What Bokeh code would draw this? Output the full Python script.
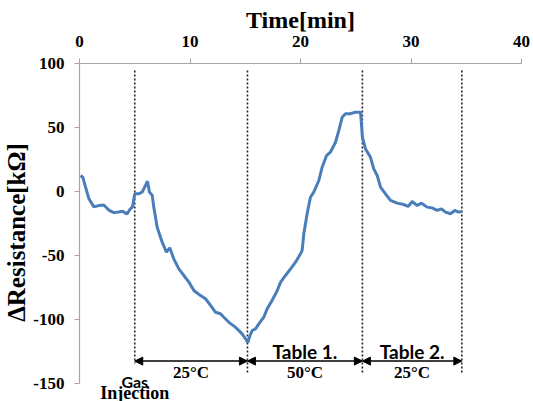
from bokeh.plotting import figure
from bokeh.models import Range1d, FixedTicker, Label, Arrow, NormalHead
from bokeh.embed import file_html
from bokeh.resources import INLINE

# ---- data ----
time_min = [0.1, 0.3, 0.55, 0.85, 1.3, 1.75, 2.2, 2.65, 3.1, 3.55, 3.9, 4.3, 4.6, 4.8,
            5.0, 5.35, 5.67, 5.97, 6.15, 6.33, 6.58, 6.72, 7.03, 7.48, 7.87, 8.17, 8.53,
            8.99, 9.44, 9.9, 10.35, 10.95, 11.4, 11.86, 12.3, 12.76, 13.06, 13.5, 14.1,
            14.7, 15.1, 15.23, 15.45, 15.63, 15.93, 16.23, 16.68, 16.98, 17.44, 17.9,
            18.2, 18.64, 19.1, 19.55, 20.0, 20.15, 20.3, 20.6, 20.9, 21.2, 21.66, 21.96,
            22.35, 22.7, 23.17, 23.47, 23.77, 24.07, 24.5, 24.98, 25.43, 25.52, 25.6,
            25.88, 26.33, 26.63, 26.94, 27.24, 27.69, 28.14, 28.75, 29.35, 29.74, 30.1,
            30.56, 30.95, 31.46, 31.9, 32.37, 32.76, 33.12, 33.57, 33.96, 34.3, 34.6]
resistance_kohm = [12.5, 11, 3.4, -5.7, -12, -11, -10.5, -14.5, -16.5, -16, -15.5, -17.5,
                   -13.5, -12, -1.8, -1.8, -0.5, 4.7, 8, -0.5, -3, -12, -28, -39.6, -47.4,
                   -44, -52.6, -60.4, -65.6, -70.8, -77.3, -81.3, -83.8, -89, -94.3, -95.5,
                   -98.2, -102, -106, -111, -116, -118, -112, -108.6, -107.3, -103.4, -98.2,
                   -91.7, -85, -77.3, -70.8, -65.6, -60.4, -55.2, -48.7, -46, -33, -17.4,
                   -4.5, -0.5, 8.6, 19, 28, 30.7, 38.5, 47.7, 58, 60.7, 60.7, 62, 62, 52,
                   42.4, 33.3, 26.8, 17.7, 12.5, 3.4, -1.8, -7, -9.1, -10.2, -11.7, -7.8,
                   -10.9, -9.1, -12.2, -12.8, -14.8, -13.5, -16.1, -17.4, -14.8, -16.1, -15.6]

event_times = [5.0, 15.2, 25.6, 34.6]
phase_names = ["", "Table 1.", "Table 2."]
phase_temps = ["25\u00b0C", "50\u00b0C", "25\u00b0C"]

x_ticks = [0, 10, 20, 30, 40]
y_ticks = [-150, -100, -50, 0, 50, 100]

SERIF = "Liberation Serif"
SANS = "Lato"

p = figure(width=533, height=401, x_range=Range1d(0, 40), y_range=Range1d(-164.06, 100),
           x_axis_location="above", output_backend="svg", toolbar_location=None,
           min_border_left=79, min_border_right=12, min_border_top=63, min_border_bottom=0)
p.grid.visible = False
p.outline_line_color = None
p.background_fill_color = "white"

p.xaxis.ticker = FixedTicker(ticks=x_ticks)
p.yaxis.ticker = FixedTicker(ticks=y_ticks)
p.yaxis.bounds = (-150, 100)
p.yaxis.major_label_overrides = {t: str(t) for t in y_ticks}
for ax in p.axis:
    ax.axis_line_color = "#a6a6a6"
    ax.axis_line_width = 1.2
    ax.major_tick_line_color = "#a6a6a6"
    ax.minor_tick_line_color = None
    ax.major_tick_out = 5
    ax.major_tick_in = 0
    ax.major_label_text_font = SERIF
    ax.major_label_text_font_style = "bold"
    ax.major_label_text_font_size = "17px"
    ax.major_label_text_color = "black"
    ax.axis_label_text_font = SERIF
    ax.axis_label_text_font_style = "bold"
    ax.axis_label_text_color = "black"
p.xaxis.major_label_standoff = 12
p.yaxis.major_label_standoff = 10
p.xaxis.axis_label = "Time[min]"
p.xaxis.axis_label_text_font_size = "24px"
p.xaxis.axis_label_standoff = 0
p.xaxis.axis_label_text_baseline = "alphabetic"
p.yaxis.axis_label = "\u0394Resistance[k\u03a9]"
p.yaxis.axis_label_text_font_size = "25px"
p.yaxis.axis_label_standoff = 0

# dotted event lines
n = len(event_times)
p.segment(x0=event_times, y0=[94.5] * n, x1=event_times, y1=[-134.4] + [-141.4] * (n - 1),
          line_color="#222222", line_width=1.6, line_dash="2 2")

# data line
p.line(time_min, resistance_kohm, line_color="#4a7ebb", line_width=3)

# phase arrows and labels
for i in range(n - 1):
    a, b = event_times[i], event_times[i + 1]
    p.add_layout(Arrow(x_start=a, y_start=-132.5, x_end=b, y_end=-132.5,
                       line_color="black", line_width=1.5,
                       start=NormalHead(size=8, fill_color="black", line_color="black"),
                       end=NormalHead(size=8, fill_color="black", line_color="black")))
    mid = (a + b) / 2
    p.add_layout(Label(x=mid, y=-141.6, text=phase_temps[i], text_align="center",
                       text_baseline="alphabetic", text_font=SERIF, text_font_style="bold",
                       text_font_size="17px", text_color="black"))
    if phase_names[i]:
        p.add_layout(Label(x=mid, y=-125.0, text=phase_names[i], text_align="center",
                           text_baseline="alphabetic", text_font=SANS, text_font_style="bold",
                           text_font_size="19px", text_color="black"))

p.add_layout(Label(x=event_times[0], y=-148.3, text="Gas", text_align="center",
                   text_baseline="alphabetic", text_font=SANS, text_font_style="bold",
                   text_font_size="16px", text_color="black"))
p.add_layout(Label(x=event_times[0], y=-157.5, text="Injection", text_align="center",
                   text_baseline="alphabetic", text_font=SERIF, text_font_style="bold",
                   text_font_size="18px", text_color="black"))

open("out.html", "w").write(file_html(p, INLINE))
